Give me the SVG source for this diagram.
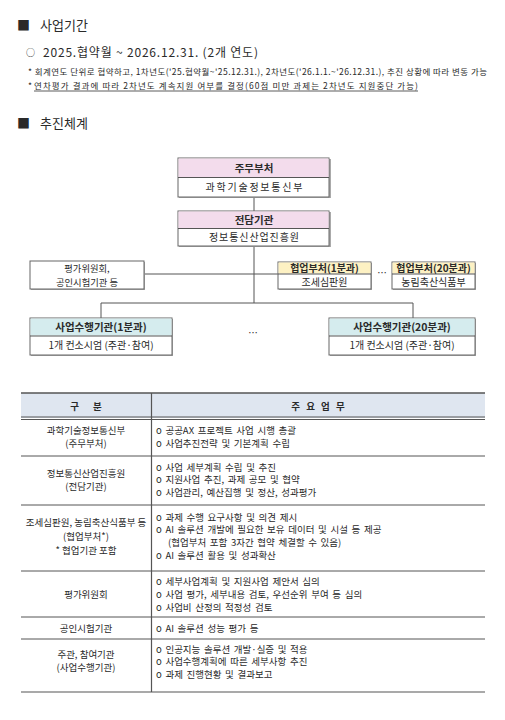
<svg xmlns="http://www.w3.org/2000/svg" width="505" height="720" viewBox="0 0 505 720">
<style>
text{font-family:"Noto Sans CJK KR","Noto Sans",sans-serif;fill:#2a2a2a}
.h{font-size:13px}
.b{font-size:12px}
.n{font-size:8.5px}
.t{font-size:9.5px}
.r{word-spacing:1.5px}
.o{font-size:10px}
.oh{font-size:10.5px;font-weight:700}
.c{text-anchor:middle}
.bold{font-weight:700}
.box{fill:#fff;stroke:#666;stroke-width:1}
.sh{fill:#aaa}
.ln{stroke:#555;stroke-width:1;fill:none}
.tl{stroke:#555;stroke-width:1}
</style>
<rect width="505" height="720" fill="#fff"/>
<g id="header1">
<text x="17" y="30" class="h">■</text>
<text x="40" y="30" class="h">사업기간</text>
<text x="26" y="56" style="font-size:9px">○</text>
<text x="43" y="57" class="b" textLength="215" lengthAdjust="spacing">2025.협약월 ~ 2026.12.31. (2개 연도)</text>
<text x="28" y="75" class="n" textLength="459" lengthAdjust="spacing">* 회계연도 단위로 협약하고, 1차년도('25.협약월~'25.12.31.), 2차년도('26.1.1.~'26.12.31.), 추진 상황에 따라 변동 가능</text>
<text x="28" y="89" class="n">*</text>
<text x="34" y="89" class="n" textLength="384" lengthAdjust="spacing">연차평가 결과에 따라 2차년도 계속지원 여부를 결정(60점 미만 과제는 2차년도 지원중단 가능)</text>
<line x1="34" y1="91" x2="418" y2="91" stroke="#333" stroke-width="0.8"/>
</g>
<g id="header2">
<text x="17" y="128" class="h">■</text>
<text x="40" y="128" class="h">추진체계</text>
</g>
<g id="connectors">
<line class="ln" x1="254" y1="197" x2="254" y2="211"/>
<line class="ln" x1="254" y1="246" x2="254" y2="303"/>
<line class="ln" x1="144" y1="274" x2="278" y2="274"/>
<polyline class="ln" points="101,318 101,303 413,303 413,318"/>
</g>
<g id="node-jumu">
<rect class="sh" x="179" y="159" width="152" height="39"/>
<rect class="box" x="178" y="158" width="151" height="39"/>
<rect x="178.5" y="158.5" width="150" height="19" fill="#f3dcec"/>
<line class="ln" x1="178" y1="177.5" x2="329" y2="177.5"/>
<text x="254" y="172" class="oh c">주무부처</text>
<text x="254" y="191" class="o c" textLength="97" lengthAdjust="spacing">과학기술정보통신부</text>
</g>
<g id="node-jeondam">
<rect class="sh" x="179" y="212" width="152" height="35"/>
<rect class="box" x="178" y="211" width="151" height="35"/>
<rect x="178.5" y="211.5" width="150" height="17" fill="#f3dcec"/>
<line class="ln" x1="178" y1="228.5" x2="329" y2="228.5"/>
<text x="254" y="223.5" class="oh c">전담기관</text>
<text x="254" y="241" class="o c" textLength="90" lengthAdjust="spacing">정보통신산업진흥원</text>
</g>
<g id="node-eval">
<rect class="sh" x="31" y="262" width="114" height="28"/>
<rect class="box" x="30" y="261" width="114" height="28"/>
<text x="87" y="272" style="font-size:9.3px" class="c">평가위원회,</text>
<text x="87" y="285.5" style="font-size:9.3px" class="c">공인시험기관 등</text>
</g>
<g id="node-coop1">
<rect class="sh" x="279" y="263" width="93" height="27"/>
<rect class="box" x="278" y="262" width="93" height="27"/>
<rect x="278.5" y="262.5" width="92" height="11" fill="#fdf1c3"/>
<line class="ln" x1="278" y1="274" x2="371" y2="274"/>
<text x="324.5" y="271.5" class="o c bold">협업부처(1분과)</text>
<text x="324.5" y="285.5" class="o c">조세심판원</text>
</g>
<text x="382" y="276" class="t c">…</text>
<g id="node-coop20">
<rect class="sh" x="393" y="263" width="83" height="27"/>
<rect class="box" x="392" y="262" width="83" height="27"/>
<rect x="392.5" y="262.5" width="82" height="11" fill="#fdf1c3"/>
<line class="ln" x1="392" y1="274" x2="475" y2="274"/>
<text x="433.5" y="271.5" class="o c bold">협업부처(20분과)</text>
<text x="433.5" y="285.5" class="o c">농림축산식품부</text>
</g>
<g id="node-exec1">
<rect class="sh" x="31" y="319" width="142" height="37"/>
<rect class="box" x="30" y="318" width="142" height="37"/>
<rect x="30.5" y="318.5" width="141" height="17" fill="#d5ecee"/>
<line class="ln" x1="30" y1="336" x2="172" y2="336"/>
<text x="101" y="330.5" class="oh c">사업수행기관(1분과)</text>
<text x="101" y="349" class="o c">1개 컨소시엄 (주관·참여)</text>
</g>
<text x="253" y="336" class="t c">…</text>
<g id="node-exec20">
<rect class="sh" x="330" y="319" width="146" height="37"/>
<rect class="box" x="329" y="318" width="146" height="37"/>
<rect x="329.5" y="318.5" width="145" height="17" fill="#d5ecee"/>
<line class="ln" x1="329" y1="336" x2="475" y2="336"/>
<text x="402" y="330.5" class="oh c">사업수행기관(20분과)</text>
<text x="402" y="349" class="o c">1개 컨소시엄 (주관·참여)</text>
</g>
<g id="table">
<rect x="21" y="393" width="464" height="25" fill="#dfe6f0"/>
<line x1="21" y1="393" x2="485" y2="393" stroke="#555" stroke-width="1.5"/>
<line class="tl" x1="21" y1="417" x2="485" y2="417"/>
<line class="tl" x1="21" y1="419.5" x2="485" y2="419.5"/>
<line class="tl" x1="21" y1="456" x2="485" y2="456"/>
<line class="tl" x1="21" y1="505" x2="485" y2="505"/>
<line class="tl" x1="21" y1="571" x2="485" y2="571"/>
<line class="tl" x1="21" y1="617" x2="485" y2="617"/>
<line class="tl" x1="21" y1="639" x2="485" y2="639"/>
<line x1="21" y1="692" x2="485" y2="692" stroke="#555" stroke-width="1.2"/>
<line x1="151.5" y1="393" x2="151.5" y2="692" stroke="#555" stroke-width="1.2"/>
<text x="86" y="410" class="t c bold" style="word-spacing:12px">구 분</text>
<text x="318" y="410" class="t c bold" style="word-spacing:4px">주 요 업 무</text>

<text x="86" y="434" class="t c">과학기술정보통신부</text>
<text x="86" y="447" class="t c">(주무부처)</text>
<text x="156" y="434" class="t r">o 공공AX 프로젝트 사업 시행 총괄</text>
<text x="156" y="447" class="t r">o 사업추진전략 및 기본계획 수립</text>

<text x="86" y="477" class="t c">정보통신산업진흥원</text>
<text x="86" y="490" class="t c">(전담기관)</text>
<text x="156" y="470.5" class="t r">o 사업 세부계획 수립 및 추진</text>
<text x="156" y="483" class="t r">o 지원사업 추진, 과제 공모 및 협약</text>
<text x="156" y="495.5" class="t r">o 사업관리, 예산집행 및 정산, 성과평가</text>

<text x="86" y="526" class="t c">조세심판원, 농림축산식품부 등</text>
<text x="86" y="540" class="t c">(협업부처*)</text>
<text x="86" y="554" class="t c">* 협업기관 포함</text>
<text x="156" y="520.5" class="t r">o 과제 수행 요구사항 및 의견 제시</text>
<text x="156" y="533" class="t r">o AI 솔루션 개발에 필요한 보유 데이터 및 시설 등 제공</text>
<text x="168" y="546" class="t r">(협업부처 포함 3자간 협약 체결할 수 있음)</text>
<text x="156" y="559" class="t r">o AI 솔루션 활용 및 성과확산</text>

<text x="86" y="598" class="t c">평가위원회</text>
<text x="156" y="584.5" class="t r">o 세부사업계획 및 지원사업 제안서 심의</text>
<text x="156" y="597.5" class="t r">o 사업 평가, 세부내용 검토, 우선순위 부여 등 심의</text>
<text x="156" y="610.5" class="t r">o 사업비 산정의 적정성 검토</text>

<text x="86" y="631.5" class="t c">공인시험기관</text>
<text x="156" y="631.5" class="t r">o AI 솔루션 성능 평가 등</text>

<text x="86" y="658" class="t c">주관, 참여기관</text>
<text x="86" y="671" class="t c">(사업수행기관)</text>
<text x="156" y="652.5" class="t r">o 인공지능 솔루션 개발·실증 및 적용</text>
<text x="156" y="665" class="t r">o 사업수행계획에 따른 세부사항 추진</text>
<text x="156" y="677.5" class="t r">o 과제 진행현황 및 결과보고</text>
</g>
</svg>
